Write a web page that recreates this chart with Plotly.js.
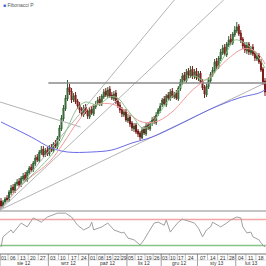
<!DOCTYPE html>
<html><head><meta charset="utf-8">
<script src="https://cdn.plot.ly/plotly-3.0.1.min.js"></script>
<style>html,body{margin:0;padding:0;background:#fff}#c{width:266px;height:266px}</style>
</head><body><div id="c"></div>
<script>
// OHLC (price units)
const openP = [299,294,298,302,300,307,313,309,316,319, 315,321,325,320,327,333,330,336,343,339, 347,351,345,350,346,353,349,357,353,361,
371,381,391,401,413,409,400,405,399,395, 391,385,393,389,383,391,386,393,397,401, 396,403,409,404,411,405,401,407,399,395,
391,385,389,379,383,377,371,375,369,367, 362,371,366,375,371,377,381,377,386,389, 395,401,395,405,401,409,403,407,401,411,
417,425,419,429,424,431,423,429,421,427, 419,413,405,413,419,425,429,439,433,441, 447,453,445,455,461,457,465,469,474,467,
461,455,449,456,447,453,447,441,445,439, 431,419];
const closeP = [294,298,301,300,308,312,310,316,318,315, 322,324,320,328,332,330,337,342,340,348, 350,345,349,346,352,350,356,354,362,372,
382,392,402,412,408,400,404,398,394,390, 386,392,388,384,390,387,394,396,400,397, 404,408,405,410,404,402,406,398,394,390,
386,388,380,382,376,372,374,368,366,363, 370,367,374,372,376,380,378,385,390,394, 400,396,404,402,408,404,406,402,412,418,
424,420,428,425,430,424,428,422,426,418, 412,406,414,420,426,430,438,434,442,448, 452,446,456,460,458,466,470,473,466,460,
454,450,455,448,452,446,442,444,438,430, 418,408];
const highP = [302,300,303,305,310,315,316,318,321,322, 324,327,328,330,334,336,339,345,346,350, 354,354,352,353,355,356,358,360,364,375,
385,395,405,420,416,412,407,408,401,398, 393,395,396,391,393,394,396,399,403,404, 406,411,412,413,414,408,409,410,402,398,
393,391,391,386,385,379,377,377,371,369, 373,374,377,378,379,383,384,388,392,397, 402,404,406,408,411,412,408,410,414,421,
427,428,431,432,434,434,431,432,429,429, 421,415,416,423,428,433,441,442,444,451, 455,456,458,464,466,468,474,478,476,470,
463,458,458,458,454,456,449,447,447,441, 433,422];
const lowP = [290,292,296,298,298,305,307,307,314,313, 313,319,318,318,325,328,328,334,338,337, 345,343,343,344,344,348,347,352,351,359,
369,379,389,399,405,397,398,396,391,387, 383,383,386,381,381,385,384,391,395,394, 394,401,403,402,402,400,399,396,392,387,
383,383,378,377,373,369,368,366,363,360, 361,365,364,370,369,374,376,375,384,387, 393,394,393,400,399,402,401,400,399,409,
415,418,417,422,422,421,421,420,419,416, 410,402,403,411,417,423,427,431,431,439, 445,444,443,453,455,455,463,467,464,457,
451,447,446,445,445,444,439,439,436,428, 415,404];

// moving averages
const blueIdx = [0,15,25,33,45,55,65,75,90,103,118,128,131];
const blueVal = [378,363,352,348,348,350,357,363,377,390,402,407,410];
const redIdx = [5,13,24,31,38,45,55,61,70,78,86,90,95,100,104,112,120,125,129,131];
const redVal = [304,320,338,357,378,394,396,390,378,379,390,399,410,418,424,440,451,450,443,436];
const greenIdx = [10,18,25,30,33,38,42,48,54,58,62,66,70,73,77,82,88,92,96,100,104,108,112,116,120,124,128,131];
const greenVal = [315,330,345,360,372,392,398,395,403,402,392,382,372,373,382,397,410,420,424,420,422,434,448,460,458,452,442,432];

// oscillator
const oscIdx = [0,1,5,6,10,13,16,20,23,28,32,35,38,41,44,45,46,50,53,56,60,61,63,66,69,71,73,76,78,81,82,84,86,88,90,94,96,98,100,102,104,105,109,112,114,117,119,120,122,124,125,128,129,131];
const oscVal = [16,40,56,49,72,63,84,74,86,95,95,86,67,56,63,74,56,63,72,56,49,51,37,33,21,33,49,72,74,67,79,51,63,74,81,74,72,60,40,56,63,74,63,72,79,86,84,63,49,51,40,33,26,16];
const oscLevels = [80, 20];

// drawing tools (fan lines and horizontal level)
const fanX0 = [-0.5,-0.5,-0.5,-0.5];
const fanY0 = [290,290,290,398];
const fanX1 = [86,110.5,132,39.5];
const fanY1 = [500,500,418,373];
const levelX = [23.5, 131.5];
const levelY = [417, 417];

// axis labels
const weekStart = [0,4,9,14,19,24,29,34,39,44,48,52,56,60,63,67,72,76,80,84,88,92,98,103,108,113,117,122,127];
const weekLbl = ["01","06","13","20","27","03","10","17","24","01","08","15","22","29","05","12","19","26","03","10","17","24","07","14","21","28","04","11","18"];
const monthStart = [0,24,44,63,80,98,117];
const monthLbl = ["sie 12","wrz 12","paź 12","lis 12","gru 12","sty 13","lut 13"];

const N = closeP.length;
const idx = closeP.map((_, i) => i);
const xMax = N - 0.5;

const traces = [];
for (let k = 0; k < fanX0.length; k++) {
  traces.push({type:'scatter', mode:'lines', x:[fanX0[k], fanX1[k]], y:[fanY0[k], fanY1[k]],
    line:{color:'#b4b4b4', width:1}, hoverinfo:'skip', xaxis:'x', yaxis:'y'});
}
traces.push({type:'scatter', mode:'lines', x:levelX, y:levelY, line:{color:'#8a8a8a', width:1.5}, xaxis:'x', yaxis:'y'});
traces.push({type:'scatter', mode:'lines', x:blueIdx, y:blueVal, line:{color:'#6a6ae8', width:1, shape:'spline'}, xaxis:'x', yaxis:'y'});
traces.push({type:'scatter', mode:'lines', x:redIdx, y:redVal, line:{color:'#f39a9a', width:1, shape:'spline'}, xaxis:'x', yaxis:'y'});
traces.push({type:'scatter', mode:'lines', x:greenIdx, y:greenVal, line:{color:'#8cc68c', width:1, shape:'spline'}, xaxis:'x', yaxis:'y'});
traces.push({type:'candlestick', x:idx, open:openP, high:highP, low:lowP, close:closeP,
  increasing:{line:{color:'#2f5f2f', width:1}, fillcolor:'#5e9a5e'},
  decreasing:{line:{color:'#7a1a1a', width:1}, fillcolor:'#b83030'},
  whiskerwidth:0, xaxis:'x', yaxis:'y'});
oscLevels.forEach((lv, k) => traces.push({type:'scatter', mode:'lines', x:[-0.5, xMax], y:[lv, lv],
  line:{color: k === 0 ? '#f5a5a5' : '#86c486', width:1.5}, xaxis:'x', yaxis:'y2'}));
traces.push({type:'scatter', mode:'lines', x:oscIdx, y:oscVal, line:{color:'#a0a0a0', width:1}, xaxis:'x', yaxis:'y2'});

const H = 266;
const mainBottom = (H - 211) / H;
const oscBottom = (H - 254) / H;

const annotations = [];
const shapes = [];
// legend label
annotations.push({xref:'paper', yref:'paper', x:0.004, y:1 - 5/H, xanchor:'left', yanchor:'middle', showarrow:false,
  text:'<span style="color:#4a6ad8">■</span> Fibonacci P', font:{family:'Liberation Sans, Arial', size:5, color:'#555'}});
// week labels
weekStart.forEach((s, k) => {
  const e = k + 1 < weekStart.length ? weekStart[k+1] : N;
  annotations.push({xref:'x', yref:'paper', x:(s + e - 1) / 2, y:(H - 257.5) / H, showarrow:false, xanchor:'center', yanchor:'middle',
    text:weekLbl[k], font:{family:'Liberation Sans, Arial', size:5, color:'#333'}});
  shapes.push({type:'line', xref:'x', yref:'paper', x0:s - 0.5, x1:s - 0.5, y0:(H - 254) / H, y1:(H - 260) / H, line:{color:'#999', width:0.6}});
});
monthStart.forEach((s, k) => {
  const e = k + 1 < monthStart.length ? monthStart[k+1] : N;
  annotations.push({xref:'x', yref:'paper', x:(s + e - 1) / 2, y:(H - 263) / H, showarrow:false, xanchor:'center', yanchor:'middle',
    text:monthLbl[k], font:{family:'Liberation Sans, Arial', size:5, color:'#333'}});
  shapes.push({type:'line', xref:'x', yref:'paper', x0:s - 0.5, x1:s - 0.5, y0:(H - 254) / H, y1:0, line:{color:'#888', width:0.8}});
});
shapes.push({type:'line', xref:'paper', yref:'paper', x0:0, x1:1, y0:mainBottom, y1:mainBottom, line:{color:'#8a8a8a', width:1.2}});
shapes.push({type:'line', xref:'paper', yref:'paper', x0:0, x1:1, y0:oscBottom, y1:oscBottom, line:{color:'#777', width:1}});
shapes.push({type:'line', xref:'paper', yref:'paper', x0:0, x1:1, y0:(H - 260) / H, y1:(H - 260) / H, line:{color:'#bbb', width:0.5}});

const layout = {
  width:266, height:266, margin:{l:0, r:0, t:0, b:0},
  paper_bgcolor:'#fff', plot_bgcolor:'#fff', showlegend:false,
  xaxis:{domain:[0,1], range:[-0.5, xMax], anchor:'y2', showticklabels:false, ticks:'', showgrid:false, zeroline:false, showline:false, rangeslider:{visible:false}, fixedrange:true},
  yaxis:{domain:[mainBottom, 1], range:[289, 500], showticklabels:false, ticks:'', showgrid:false, zeroline:false, showline:false},
  yaxis2:{domain:[oscBottom, mainBottom], range:[0, 100], anchor:'x', showticklabels:false, ticks:'', showgrid:false, zeroline:false, showline:false},
  annotations:annotations, shapes:shapes
};
Plotly.newPlot('c', traces, layout, {staticPlot:true, displayModeBar:false});
</script></body></html>
